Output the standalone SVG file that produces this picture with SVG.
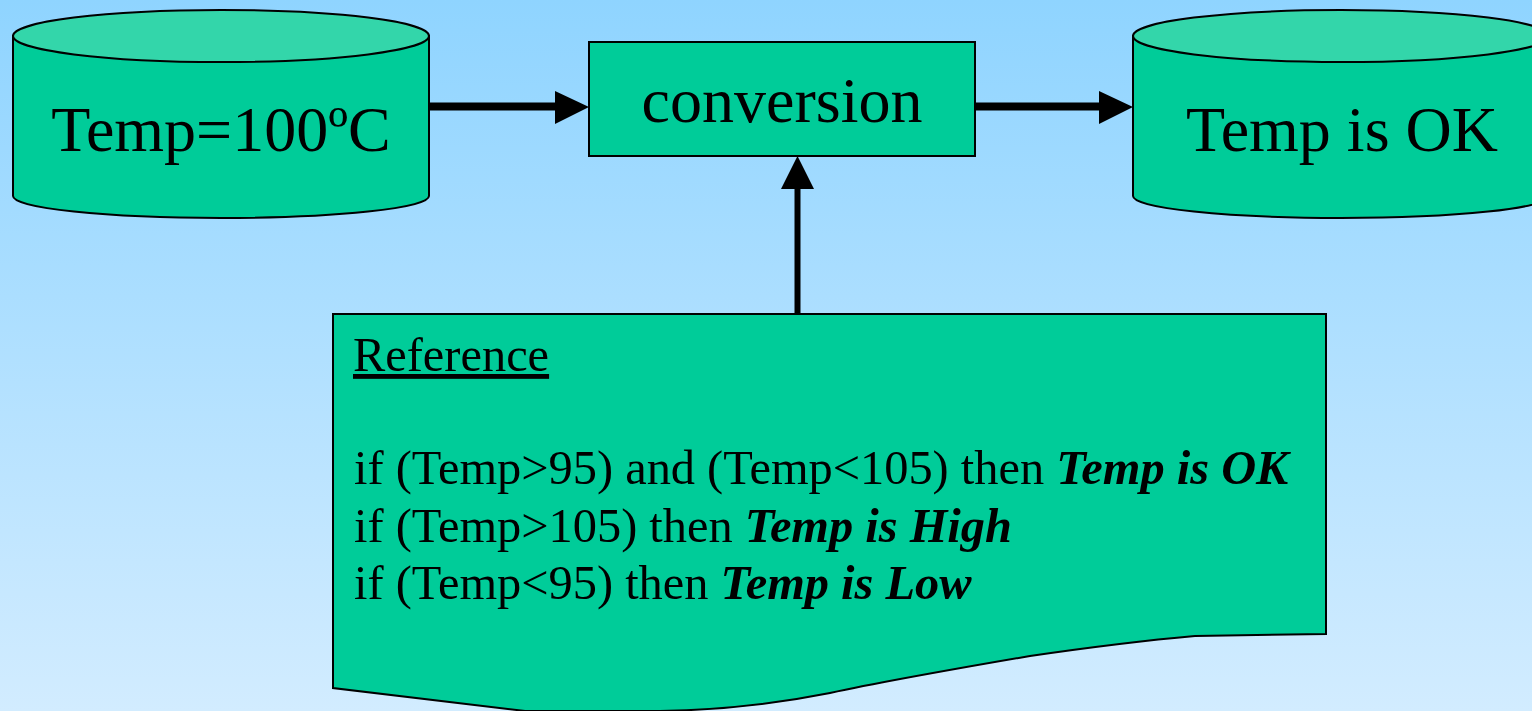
<svg xmlns="http://www.w3.org/2000/svg" width="1532" height="711" viewBox="0 0 1532 711">
<defs>
<linearGradient id="bg" x1="0" y1="0" x2="0" y2="1">
<stop offset="0" stop-color="#8fd4ff"/>
<stop offset="1" stop-color="#d2ecff"/>
</linearGradient>
<style>
.body{fill:#00cc99;stroke:#000;stroke-width:2}
.cap{fill:#33d6aa;stroke:#000;stroke-width:2}
.t{font-family:"Liberation Serif","Times New Roman",serif;fill:#000}
.big{font-size:64px}
.mid{font-size:48.4px}
.bi{font-weight:bold;font-style:italic}
.conn{stroke:#000;fill:none}
.head{fill:#000}
</style>
</defs>
<rect x="0" y="0" width="1532" height="711" fill="url(#bg)"/>

<g id="connectors">
<line class="conn" x1="429" y1="106.5" x2="557" y2="106.5" stroke-width="8"/>
<polygon class="head" points="555,91 589,107 555,124"/>
<line class="conn" x1="975" y1="106.5" x2="1100" y2="106.5" stroke-width="8"/>
<polygon class="head" points="1099,91 1133,107 1099,124"/>
<line class="conn" x1="797.5" y1="314" x2="797.5" y2="186" stroke-width="6"/>
<polygon class="head" points="781,189 797.5,156 814,189"/>
</g>

<g id="source">
<path class="body" d="M13,36 L13,196 A208,22 0 0 0 429,196 L429,36 Z"/>
<ellipse class="cap" cx="221" cy="36" rx="208" ry="26"/>
<text class="t big" x="221" y="151" text-anchor="middle">Temp=100ºC</text>
</g>

<g id="conversion">
<rect class="body" x="589" y="42" width="386" height="114"/>
<text class="t big" x="782" y="122" text-anchor="middle">conversion</text>
</g>

<g id="result">
<path class="body" d="M1133,36 L1133,196 A208,22 0 0 0 1549,196 L1549,36 Z"/>
<ellipse class="cap" cx="1341" cy="36" rx="208" ry="26"/>
<text class="t big" x="1342" y="151" text-anchor="middle">Temp is OK</text>
</g>

<g id="reference">
<path class="body" d="M333,314 L1326,314 L1326,634 L1195,636 C1150,640 1085,648 1030,656 C960,668 890,680 830,693 C770,705 720,710 660,711 L525,711 L333,688 Z"/>
<text class="t mid" x="353" y="371" text-decoration="underline">Reference</text>
<text class="t mid" x="354" y="484">if (Temp&gt;95) and (Temp&lt;105) then <tspan class="bi">Temp is OK</tspan></text>
<text class="t mid" x="354" y="542">if (Temp&gt;105) then <tspan class="bi">Temp is High</tspan></text>
<text class="t mid" x="354" y="599">if (Temp&lt;95) then <tspan class="bi">Temp is Low</tspan></text>
</g>
</svg>
